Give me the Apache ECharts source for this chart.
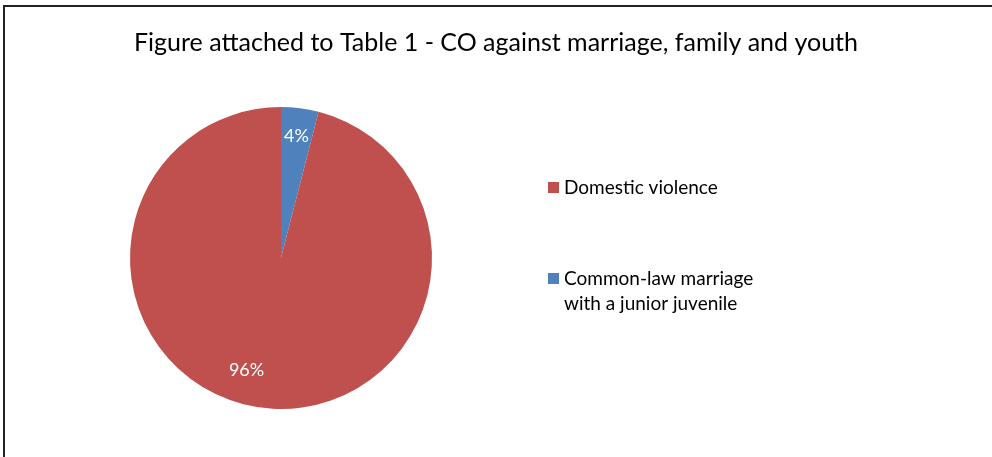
<!DOCTYPE html>
<html>
<head>
<meta charset="utf-8">
<script src="https://cdn.jsdelivr.net/npm/echarts@6/dist/echarts.min.js"></script>
<style>
  html, body { margin: 0; padding: 0; background: #fff; }
  .page-wrap { position: relative; width: 992px; height: 457px; overflow: hidden; }
  .frame {
    position: absolute; left: 3px; top: 5px; width: 1200px; height: 800px;
    border-left: 2px solid #222; border-top: 2px solid #222;
  }
  #chart-dom-1 { position: absolute; left: 0; top: 0; width: 992px; height: 457px; }
</style>
</head>
<body>
<div class="page-wrap">
  <div class="frame"></div>
  <div id="chart-dom-1"></div>
</div>
<script>
const titleText = 'Figure attached to Table 1 - CO against marriage, family and youth'
// pie order: starts at 12 o'clock, clockwise
const categories = ['Common-law marriage with a junior juvenile', 'Domestic violence']
const values = [4, 96]
const colors = ['#4F81BD', '#C0504D']
// leading blank line keeps the legend square level with the first text line
const legendLabels = {
  'Domestic violence': 'Domestic violence',
  'Common-law marriage with a junior juvenile': '\nCommon-law marriage\nwith a junior juvenile'
}

const fontFamily = 'Lato, "Open Sans", sans-serif'
const pieData = categories.map((name, i) => ({
  name: name,
  value: values[i],
  itemStyle: { color: colors[i] }
}))

const chartDom = document.getElementById('chart-dom-1')
const chartInstance = echarts.init(chartDom)
let option

const legendBase = {
  orient: 'vertical',
  left: 543,
  itemWidth: 11,
  itemHeight: 11,
  itemGap: 0,
  icon: 'rect',
  formatter: (name) => legendLabels[name],
  textStyle: { fontFamily: fontFamily, fontSize: 19, color: '#000', lineHeight: 25 }
}

option = {
  animation: false,
  title: {
    text: titleText,
    left: 'center',
    top: 25,
    textStyle: { fontFamily: fontFamily, fontSize: 25, fontWeight: 'normal', color: '#000' }
  },
  legend: [
    Object.assign({}, legendBase, { top: 170, data: ['Domestic violence'] }),
    Object.assign({}, legendBase, { top: 236, data: ['Common-law marriage with a junior juvenile'] })
  ],
  series: [
    {
      type: 'pie',
      center: [281, 258],
      radius: [0, 151],
      startAngle: 90,
      clockwise: true,
      label: { show: false },
      labelLine: { show: false },
      itemStyle: { borderWidth: 0 },
      emphasis: { disabled: true },
      data: pieData
    },
    {
      // label ring, labels sit nearer the rim as in the original
      type: 'pie',
      center: [281, 258],
      radius: [89, 151],
      startAngle: 90,
      clockwise: true,
      silent: true,
      itemStyle: { color: 'rgba(0,0,0,0)', borderWidth: 0 },
      label: {
        show: true,
        position: 'inside',
        formatter: '{d}%',
        color: '#fff',
        fontFamily: fontFamily,
        fontSize: 18
      },
      labelLine: { show: false },
      emphasis: { disabled: true },
      data: categories.map((name, i) => ({
        name: name,
        value: values[i],
        label: i === 1 ? { offset: [-19, -10] } : {}
      }))
    }
  ]
}

option && chartInstance.setOption(option)
</script>
</body>
</html>
